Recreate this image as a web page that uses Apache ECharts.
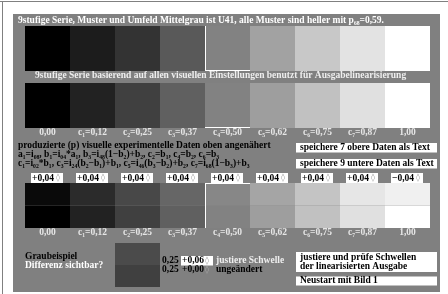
<!DOCTYPE html>
<html><head><meta charset="utf-8">
<script src="https://cdn.jsdelivr.net/npm/echarts@6/dist/echarts.min.js"></script>
<style>html,body{margin:0;padding:0;background:#fff}#c{width:448px;height:294px}</style>
</head><body><div id="c"></div>
<script>
// ---- data ----
const categories = ['0,00','c₁=0,12','c₂=0,25','c₃=0,37','c₄=0,50','c₅=0,62','c₆=0,75','c₇=0,87','1,00'];
const patchValues = [1,1,1,1,1,1,1,1,1];
const row1Colors = ['#000000','#1c1c1c','#333333','#595959','#828282','#a2a2a2','#c8c8c8','#e3e3e3','#ffffff'];
const row2Colors = ['#000000','#222222','#404040','#606060','#828282','#9e9e9e','#c1c1c1','#e0e0e0','#ffffff'];
const row3TopColors = ['#0a0a0a','#2b2b2b','#484848','#666666','#878787','#a5a5a5','#c4c4c4','#e6e6e6','#f0f0f0'];
const deltaLabels = ['+0,04','+0,04','+0,04','+0,04','+0,04','+0,04','+0,04','+0,04','−0,04'];
const markedIndex = 4;
const sampleCategory = ['Graubeispiel'];
const sampleColors = ['#404040','#4b4b4b']; // lower, upper
const sampleBase = ['0,25','0,25'];
const sampleDeltas = ['+0,06','+0,00'];

const FF = '"Liberation Serif","Times New Roman",serif';
const FS = 9.5;
const chart = echarts.init(document.getElementById('c'), null, {renderer:'canvas'});

function tstyle(x, y, text, fill, font){
  return {x:x, y:y, text:text, fill:fill, font:font, textAlign:'left', textVerticalAlign:'middle', align:'left', verticalAlign:'middle'};
}
function txt(x, y, text, fill){
  return {type:'text', z:5, style:tstyle(x, y, text, fill, 'bold ' + FS + 'px ' + FF)};
}
function sym(x, y, fill){
  return {type:'text', z:5, style:tstyle(x, y, '◊', fill, '8px "DejaVu Sans"')};
}
function box(x, y, w, h){
  return {type:'rect', z:4, shape:{x:x, y:y, width:w, height:h}, style:{fill:'#fff'}};
}

function patchData(colors){
  return colors.map((c,i)=>({value:patchValues[i], itemStyle:{color:c}}));
}

const hiddenY = (gi, max) => ({type:'value', gridIndex:gi, min:0, max:max, show:false});
const catX = (gi, showLabel) => ({type:'category', gridIndex:gi, data:categories, axisLine:{show:false}, axisTick:{show:false},
  axisLabel:{show:showLabel, interval:0, margin:0, color:'#e6e6e6', fontWeight:'bold', fontSize:FS, fontFamily:FF}});

// white edge lines on the marked (middle) patch of each row
function edgeSeries(gi, yMin, yMax, edges){
  return {type:'custom', xAxisIndex:gi, yAxisIndex:gi, clip:false, z:5, silent:true,
    data:[[markedIndex, yMin, yMax]],
    renderItem:function(params, api){
      const w = api.size([1,0])[0];
      const b = api.coord([api.value(0), api.value(1)]);
      const t = api.coord([api.value(0), api.value(2)]);
      const x0 = b[0]-w/2, x1 = b[0]+w/2, yb = b[1], yt = t[1];
      const segs = {left:[x0+0.5,yt,x0+0.5,yb], right:[x1-0.5,yt,x1-0.5,yb], top:[x0,yt+0.5,x1,yt+0.5], bottom:[x0,yb-0.5,x1,yb-0.5]};
      return {type:'group', children:edges.map(e=>({type:'line', shape:{x1:segs[e][0],y1:segs[e][1],x2:segs[e][2],y2:segs[e][3]}, style:{stroke:'#fff', lineWidth:1}}))};
    }};
}

const graphics = [
  {type:'rect', z:0, shape:{x:13, y:14, width:427, height:278}, style:{fill:'#808080'}},
  {type:'line', z:0, shape:{x1:0, y1:1.5, x2:448, y2:1.5}, style:{stroke:'#808080', lineWidth:1}},
  {type:'line', z:0, shape:{x1:2.5, y1:1, x2:2.5, y2:294}, style:{stroke:'#808080', lineWidth:1}},
  txt(18, 21, '9stufige Serie, Muster und Umfeld Mittelgrau ist U41, alle Muster sind heller mit p₆₈=0,59.', '#ffffff'),
  txt(35, 75.5, '9stufige Serie basierend auf allen visuellen Einstellungen benutzt für Ausgabelinearisierung', '#eeeeee'),
  txt(18, 146, 'produzierte (p) visuelle experimentelle Daten oben angenähert', '#000'),
  txt(18, 155, 'a₁=i₀₈, b₁=i₀₄*a₁, b₃=i₄₈(1−b₂)+b₂, c₂=b₁, c₄=b₂, c₆=b₃', '#000'),
  txt(18, 163.5, 'c₁=i₀₂*b₁, c₃=i₂₄(b₂−b₁)+b₁, c₅=i₄₆(b₃−b₂)+b₂, c₇=i₆₈(1−b₃)+b₃', '#000'),
  box(296, 143, 141, 9.5), txt(300, 147.8, 'speichere 7 obere Daten als Text', '#000'),
  box(296, 159, 141, 9.5), txt(300, 163.8, 'speichere 9 untere Daten als Text', '#000'),
  box(296, 252, 141, 20), txt(300, 257.8, 'justiere und prüfe Schwellen', '#000'), txt(300, 266.8, 'der linearisierten Ausgabe', '#000'),
  box(296, 276.5, 141, 9), txt(300, 281, 'Neustart mit Bild 1', '#000'),
  txt(25, 257, 'Graubeispiel', '#000'),
  txt(25, 266, 'Differenz sichtbar?', '#ffffff'),
  txt(162, 260.5, sampleBase[0], '#000'),
  box(181, 256, 32, 9.5), txt(182, 260.8, sampleDeltas[0], '#000'), sym(205, 260.5, '#999'),
  txt(216, 260.5, 'justiere Schwelle', '#eeeeee'),
  txt(162, 270, sampleBase[1], '#000'),
  txt(182, 270, sampleDeltas[1], '#000'), sym(205, 270, '#aaa'),
  txt(216, 270, 'ungeändert', '#000')
];

chart.setOption({
  animation:false,
  backgroundColor:'#ffffff',
  grid:[
    {left:25, top:26, width:405, height:45},
    {left:25, top:83, width:405, height:45},
    {left:25, top:183, width:405, height:45},
    {left:115, top:243, width:45, height:44}
  ],
  xAxis:[catX(0,false), catX(1,true), catX(2,true),
    {type:'category', gridIndex:3, data:sampleCategory, show:false}],
  yAxis:[hiddenY(0,1), hiddenY(1,1), hiddenY(2,2), hiddenY(3,2)],
  graphic:{elements:graphics},
  series:[
    {type:'bar', xAxisIndex:0, yAxisIndex:0, barCategoryGap:'0%', data:patchData(row1Colors)},
    {type:'bar', xAxisIndex:1, yAxisIndex:1, barCategoryGap:'0%', data:patchData(row2Colors)},
    {type:'bar', xAxisIndex:2, yAxisIndex:2, stack:'r3', barCategoryGap:'0%', data:patchData(row2Colors)},
    {type:'bar', xAxisIndex:2, yAxisIndex:2, stack:'r3', barCategoryGap:'0%', data:patchData(row3TopColors)},
    {type:'bar', xAxisIndex:3, yAxisIndex:3, stack:'s', barCategoryGap:'0%', data:[{value:1, itemStyle:{color:sampleColors[0]}}]},
    {type:'bar', xAxisIndex:3, yAxisIndex:3, stack:'s', barCategoryGap:'0%', data:[{value:1, itemStyle:{color:sampleColors[1]}}]},
    edgeSeries(0, 0, 1, ['left','bottom']),
    edgeSeries(1, 0, 1, ['bottom']),
    edgeSeries(2, 0, 2, ['top','left']),
    {type:'custom', xAxisIndex:2, yAxisIndex:2, clip:false, z:6,
      data:deltaLabels.map((d,i)=>[i, 2]),
      renderItem:function(params, api){
        const p = api.coord([api.value(0), api.value(1)]);
        const label = deltaLabels[params.dataIndex];
        return {type:'group', children:[
          {type:'rect', shape:{x:p[0]-16.5, y:p[1]-10, width:32, height:10}, style:{fill:'#fff'}},
          {type:'text', style:tstyle(p[0]-15.5, p[1]-4.7, label, '#000', 'bold '+FS+'px '+FF)},
          {type:'text', style:tstyle(p[0]+8.5, p[1]-5, '◊', '#999', '8px "DejaVu Sans"')}
        ]};
      }}
  ]
});
</script></body></html>
